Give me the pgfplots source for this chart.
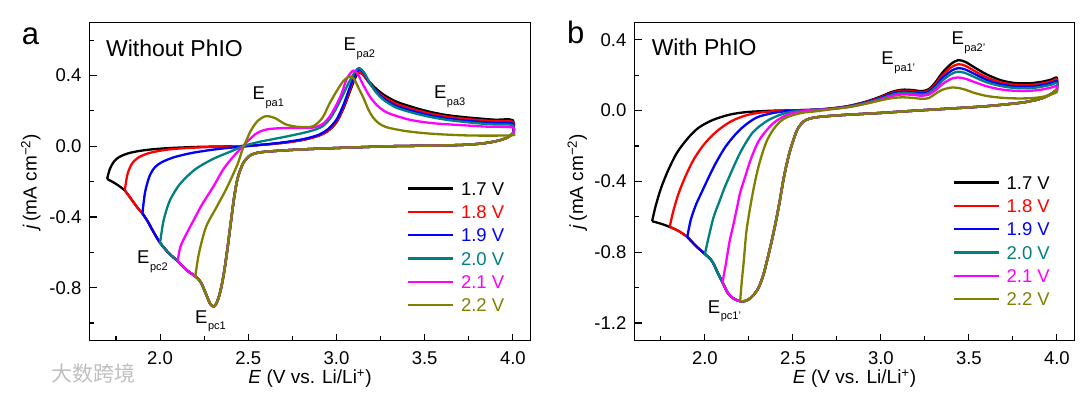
\documentclass[border=0pt]{standalone}
\usepackage{fontspec}
\setmainfont{Liberation Sans}
\newfontfamily\cjk{Noto Sans CJK SC}
\usepackage{pgfplots}
\pgfplotsset{compat=1.18}
\usepackage{pgfplotstable}

\definecolor{cblack}{RGB}{0,0,0}
\definecolor{cred}{RGB}{255,0,0}
\definecolor{cblue}{RGB}{0,0,255}
\definecolor{cteal}{RGB}{0,128,128}
\definecolor{cmag}{RGB}{255,0,255}
\definecolor{colive}{RGB}{128,128,0}

% ---------------- Panel a ----------------
\pgfplotstableread{
x y
4.00 0.072
3.97 0.050
3.93 0.035
3.87 0.022
3.80 0.013
3.70 0.007
3.50 0.003
3.30 0.000
3.00 -0.010
2.80 -0.018
2.65 -0.027
2.57 -0.034
2.53 -0.043
2.50 -0.060
2.47 -0.098
2.44 -0.180
2.42 -0.290
2.40 -0.440
2.38 -0.595
2.36 -0.730
2.34 -0.828
2.32 -0.888
2.305 -0.906
2.285 -0.893
2.26 -0.835
2.23 -0.768
2.20 -0.736
2.15 -0.700
2.10 -0.650
2.05 -0.605
2.00 -0.546
1.96 -0.480
1.93 -0.425
1.90 -0.380
1.87 -0.345
1.83 -0.290
1.80 -0.250
1.75 -0.213
1.70 -0.185
}\envA

\pgfplotstableread{
x y
1.70 -0.185
1.715 -0.130
1.74 -0.085
1.77 -0.060
1.82 -0.040
1.88 -0.027
1.96 -0.017
2.06 -0.010
2.20 -0.004
2.35 -0.001
2.47 0.001
2.60 0.010
2.72 0.022
2.82 0.038
2.90 0.060
2.95 0.085
3.00 0.135
3.04 0.215
3.08 0.320
3.11 0.395
3.13 0.415
3.15 0.405
3.18 0.372
3.22 0.330
3.27 0.290
3.34 0.252
3.43 0.222
3.52 0.197
3.62 0.177
3.72 0.165
3.81 0.157
3.90 0.150
4.00 0.147
4.00 0.072
}\aA

\pgfplotstableread{
x y
1.80 -0.250
1.815 -0.160
1.84 -0.100
1.88 -0.062
1.94 -0.038
2.02 -0.022
2.12 -0.012
2.26 -0.005
2.40 -0.001
2.47 0.001
2.60 0.010
2.72 0.022
2.82 0.038
2.90 0.060
2.95 0.086
3.00 0.138
3.04 0.222
3.08 0.330
3.105 0.400
3.125 0.422
3.15 0.405
3.18 0.365
3.22 0.320
3.27 0.278
3.34 0.240
3.43 0.211
3.52 0.187
3.62 0.168
3.72 0.156
3.81 0.148
3.90 0.142
4.00 0.138
4.00 0.072
}\aB

\pgfplotstableread{
x y
1.90 -0.380
1.915 -0.260
1.94 -0.170
1.97 -0.120
2.01 -0.090
2.08 -0.062
2.17 -0.040
2.26 -0.025
2.36 -0.012
2.45 -0.004
2.52 0.003
2.62 0.013
2.72 0.025
2.82 0.042
2.90 0.065
2.95 0.095
3.00 0.150
3.04 0.235
3.08 0.345
3.11 0.418
3.13 0.435
3.155 0.415
3.18 0.370
3.22 0.315
3.27 0.268
3.34 0.228
3.43 0.200
3.52 0.177
3.62 0.158
3.72 0.146
3.81 0.138
3.90 0.132
4.00 0.128
4.00 0.072
}\aC

\pgfplotstableread{
x y
2.00 -0.546
2.02 -0.420
2.05 -0.320
2.08 -0.262
2.12 -0.205
2.20 -0.130
2.30 -0.072
2.40 -0.030
2.47 0.000
2.55 0.022
2.65 0.042
2.75 0.062
2.85 0.085
2.92 0.112
2.97 0.165
3.02 0.255
3.07 0.360
3.11 0.428
3.13 0.442
3.155 0.420
3.18 0.375
3.22 0.310
3.27 0.260
3.34 0.218
3.43 0.190
3.52 0.168
3.62 0.150
3.72 0.138
3.81 0.129
3.90 0.123
4.00 0.119
4.00 0.072
}\aD

\pgfplotstableread{
x y
2.10 -0.650
2.115 -0.570
2.15 -0.495
2.20 -0.400
2.24 -0.326
2.30 -0.232
2.36 -0.128
2.42 -0.053
2.47 0.000
2.50 0.032
2.55 0.075
2.61 0.096
2.70 0.103
2.80 0.104
2.87 0.106
2.92 0.125
2.96 0.165
3.00 0.235
3.03 0.300
3.06 0.385
3.095 0.428
3.12 0.410
3.15 0.350
3.19 0.280
3.23 0.232
3.28 0.194
3.35 0.168
3.43 0.147
3.55 0.130
3.715 0.119
3.85 0.111
4.00 0.106
4.00 0.072
}\aE

\pgfplotstableread{
x y
2.20 -0.736
2.22 -0.608
2.26 -0.458
2.32 -0.345
2.38 -0.232
2.44 -0.100
2.465 -0.024
2.485 0.023
2.515 0.089
2.555 0.145
2.60 0.170
2.65 0.160
2.71 0.125
2.77 0.111
2.83 0.109
2.87 0.114
2.92 0.160
2.96 0.240
3.00 0.310
3.04 0.370
3.075 0.395
3.10 0.380
3.125 0.330
3.15 0.280
3.18 0.210
3.205 0.166
3.24 0.130
3.28 0.109
3.35 0.093
3.43 0.081
3.55 0.070
3.715 0.062
3.85 0.060
4.00 0.062
4.00 0.072
}\aF

% ---------------- Panel b ----------------
\pgfplotstableread{
x y
4.00 0.118
3.96 0.090
3.90 0.065
3.80 0.045
3.60 0.025
3.40 0.012
3.20 0.000
3.00 -0.013
2.80 -0.024
2.70 -0.031
2.63 -0.038
2.59 -0.047
2.56 -0.062
2.53 -0.098
2.51 -0.145
2.48 -0.240
2.45 -0.370
2.42 -0.540
2.39 -0.690
2.36 -0.820
2.33 -0.935
2.30 -1.010
2.26 -1.058
2.23 -1.075
2.20 -1.077
2.16 -1.060
2.13 -1.030
2.10 -0.970
2.07 -0.910
2.04 -0.850
2.00 -0.810
1.95 -0.766
1.90 -0.714
1.85 -0.680
1.80 -0.657
1.75 -0.639
1.70 -0.625
}\envB

\pgfplotstableread{
x y
1.70 -0.625
1.72 -0.540
1.75 -0.440
1.79 -0.340
1.84 -0.240
1.90 -0.160
1.96 -0.100
2.04 -0.055
2.14 -0.023
2.24 -0.008
2.40 0.000
2.60 0.004
2.72 0.013
2.82 0.027
2.92 0.052
3.00 0.080
3.06 0.105
3.12 0.118
3.18 0.116
3.23 0.110
3.27 0.120
3.31 0.160
3.35 0.215
3.40 0.265
3.44 0.285
3.48 0.275
3.53 0.245
3.60 0.205
3.68 0.172
3.76 0.156
3.85 0.155
3.92 0.164
3.97 0.176
4.00 0.185
4.00 0.118
}\bA

\pgfplotstableread{
x y
1.80 -0.657
1.82 -0.570
1.85 -0.470
1.89 -0.370
1.94 -0.270
2.00 -0.185
2.07 -0.115
2.15 -0.060
2.24 -0.025
2.34 -0.008
2.45 0.000
2.60 0.004
2.72 0.012
2.82 0.026
2.92 0.050
3.00 0.076
3.06 0.100
3.12 0.112
3.18 0.110
3.23 0.104
3.27 0.113
3.31 0.150
3.35 0.200
3.40 0.245
3.44 0.262
3.48 0.253
3.53 0.225
3.60 0.188
3.68 0.160
3.76 0.146
3.85 0.145
3.92 0.154
3.97 0.166
4.00 0.176
4.00 0.118
}\bB

\pgfplotstableread{
x y
1.90 -0.714
1.92 -0.616
1.95 -0.530
1.98 -0.465
2.02 -0.380
2.06 -0.300
2.12 -0.200
2.20 -0.107
2.29 -0.041
2.39 -0.013
2.48 -0.002
2.60 0.004
2.72 0.011
2.82 0.025
2.92 0.048
3.00 0.072
3.06 0.095
3.12 0.106
3.18 0.104
3.23 0.098
3.27 0.106
3.31 0.140
3.35 0.185
3.40 0.225
3.44 0.240
3.48 0.232
3.53 0.208
3.60 0.174
3.68 0.149
3.76 0.137
3.85 0.136
3.92 0.145
3.97 0.157
4.00 0.166
4.00 0.118
}\bC

\pgfplotstableread{
x y
2.00 -0.810
2.02 -0.720
2.05 -0.600
2.08 -0.520
2.11 -0.440
2.14 -0.370
2.20 -0.239
2.27 -0.126
2.35 -0.060
2.43 -0.023
2.51 -0.004
2.60 0.003
2.72 0.010
2.82 0.023
2.92 0.045
3.00 0.068
3.06 0.089
3.12 0.100
3.18 0.098
3.23 0.092
3.27 0.099
3.31 0.130
3.35 0.170
3.40 0.207
3.44 0.220
3.48 0.212
3.53 0.190
3.60 0.160
3.68 0.139
3.76 0.128
3.85 0.127
3.92 0.136
3.97 0.147
4.00 0.156
4.00 0.118
}\bD

\pgfplotstableread{
x y
2.10 -0.970
2.12 -0.860
2.14 -0.740
2.16 -0.653
2.18 -0.560
2.20 -0.465
2.23 -0.370
2.26 -0.277
2.31 -0.164
2.39 -0.070
2.47 -0.023
2.55 -0.004
2.62 0.003
2.72 0.009
2.82 0.021
2.92 0.041
3.00 0.062
3.06 0.081
3.12 0.091
3.18 0.089
3.23 0.084
3.27 0.090
3.31 0.115
3.35 0.150
3.40 0.180
3.44 0.187
3.48 0.180
3.53 0.162
3.60 0.138
3.68 0.120
3.76 0.112
3.85 0.112
3.92 0.120
3.97 0.131
4.00 0.140
4.00 0.118
}\bE

\pgfplotstableread{
x y
2.20 -1.077
2.21 -0.960
2.22 -0.860
2.235 -0.690
2.25 -0.590
2.265 -0.503
2.285 -0.400
2.305 -0.315
2.33 -0.230
2.355 -0.164
2.39 -0.105
2.43 -0.060
2.47 -0.036
2.55 -0.013
2.63 -0.004
2.72 0.008
2.82 0.020
2.92 0.040
3.00 0.058
3.06 0.070
3.12 0.075
3.18 0.072
3.23 0.067
3.27 0.070
3.31 0.095
3.35 0.118
3.40 0.130
3.44 0.128
3.48 0.118
3.53 0.100
3.60 0.083
3.68 0.073
3.76 0.069
3.85 0.070
3.92 0.078
3.97 0.092
4.00 0.105
4.00 0.118
}\bF

\newcommand{\elab}[1]{E\kern0.6pt\raisebox{-6.7pt}{\fontsize{11}{12}\selectfont #1}}

\pgfplotsset{
  cvline/.style={line width=2.3pt, smooth, tension=0.5, line join=round},
  cv/.style={
    scale only axis,
    anchor=south west,
    xmin=1.6, xmax=4.1,
    xtick={2,2.5,3,3.5,4},
    minor xtick={1.75,2.25,2.75,3.25,3.75},
    tick pos=left,
    tick align=inside,
    major tick length=7pt,
    minor tick length=4.5pt,
    tick style={line width=1.1pt, black},
    axis line style={line width=1.1pt},
    tick label style={font=\fontsize{18.5}{20}\selectfont},
    /pgf/number format/fixed,
    /pgf/number format/fixed zerofill,
    /pgf/number format/precision=1,
    /pgf/number format/assume math mode=true,
    xticklabel style={inner sep=0pt, yshift=-11pt},
    yticklabel style={inner sep=0pt, xshift=-8pt},
    xlabel={\textit{E} (V vs. Li/Li\textsuperscript{+})},
    ylabel={\textit{j}\,(mA cm\textsuperscript{−2})},
    xlabel style={at={(axis description cs:0.5,0)}, anchor=north, inner sep=0pt, yshift=-29pt, font=\fontsize{19}{21}\selectfont},
    label style={font=\fontsize{19}{21}\selectfont},
    legend cell align=left,
    legend image code/.code={\draw[#1, line width=2.3pt] (0pt,0pt) -- (45pt,0pt);},
    legend style={draw=none, fill=none, anchor=north west, inner sep=0pt,
      row sep=10pt, column sep=6.6pt, font=\fontsize{18.5}{20}\selectfont,
      nodes={inner sep=0pt, text height=13.3pt, text depth=0pt}},
  }
}

\begin{document}
\begin{tikzpicture}[x=1pt,y=1pt]
\useasboundingbox (0,0) rectangle (1080,392);

% ---------- Panel a ----------
\begin{axis}[cv,
  at={(89.5pt,51.3pt)}, width=441pt, height=318.2pt,
  ymin=-1.1, ymax=0.7,
  ytick={-0.8,-0.4,0,0.4},
  minor ytick={-1.0,-0.6,-0.2,0.2,0.6},
  ylabel style={at={(axis description cs:-0.133,0.5)}, anchor=center, inner sep=0pt},
  legend style={at={(axis description cs:0.7198,0.4995)}},
]
\addplot[cblack, cvline, restrict x to domain=1.69:4.2, forget plot] table {\envA};
\addplot[cblack, cvline] table {\aA};
\addlegendentry{\textcolor{cblack}{1.7 V}}
\addplot[cred, cvline, restrict x to domain=1.79:4.2, forget plot] table {\envA};
\addplot[cred, cvline] table {\aB};
\addlegendentry{\textcolor{cred}{1.8 V}}
\addplot[cblue, cvline, restrict x to domain=1.89:4.2, forget plot] table {\envA};
\addplot[cblue, cvline] table {\aC};
\addlegendentry{\textcolor{cblue}{1.9 V}}
\addplot[cteal, cvline, restrict x to domain=1.99:4.2, forget plot] table {\envA};
\addplot[cteal, cvline] table {\aD};
\addlegendentry{\textcolor{cteal}{2.0 V}}
\addplot[cmag, cvline, restrict x to domain=2.09:4.2, forget plot] table {\envA};
\addplot[cmag, cvline] table {\aE};
\addlegendentry{\textcolor{cmag}{2.1 V}}
\addplot[colive, cvline, restrict x to domain=2.19:4.2, forget plot] table {\envA};
\addplot[colive, cvline] table {\aF};
\addlegendentry{\textcolor{colive}{2.2 V}}

\node[anchor=base west, inner sep=0pt, font=\fontsize{23}{25}\selectfont] at (axis cs:1.693,0.505) {Without PhIO};
\node[anchor=base west, inner sep=0pt, font=\fontsize{18.5}{20}\selectfont] at (axis cs:3.04,0.539) {\elab{pa2}};
\node[anchor=base west, inner sep=0pt, font=\fontsize{18.5}{20}\selectfont] at (axis cs:2.524,0.264) {\elab{pa1}};
\node[anchor=base west, inner sep=0pt, font=\fontsize{18.5}{20}\selectfont] at (axis cs:3.552,0.270) {\elab{pa3}};
\node[anchor=base west, inner sep=0pt, font=\fontsize{18.5}{20}\selectfont] at (axis cs:1.869,-0.664) {\elab{pc2}};
\node[anchor=base west, inner sep=0pt, font=\fontsize{18.5}{20}\selectfont] at (axis cs:2.198,-1.000) {\elab{pc1}};
\end{axis}

% ---------- Panel b ----------
\begin{axis}[cv,
  at={(634.5pt,51.3pt)}, width=440pt, height=318.6pt,
  ymin=-1.3, ymax=0.5,
  ytick={-1.2,-0.8,-0.4,0,0.4},
  minor ytick={-1.0,-0.6,-0.2,0.2},
  ylabel style={at={(axis description cs:-0.13,0.5)}, anchor=center, inner sep=0pt},
  legend style={at={(axis description cs:0.7228,0.5178)}},
]
\addplot[cblack, cvline, restrict x to domain=1.69:4.2, forget plot] table {\envB};
\addplot[cblack, cvline] table {\bA};
\addlegendentry{\textcolor{cblack}{1.7 V}}
\addplot[cred, cvline, restrict x to domain=1.79:4.2, forget plot] table {\envB};
\addplot[cred, cvline] table {\bB};
\addlegendentry{\textcolor{cred}{1.8 V}}
\addplot[cblue, cvline, restrict x to domain=1.89:4.2, forget plot] table {\envB};
\addplot[cblue, cvline] table {\bC};
\addlegendentry{\textcolor{cblue}{1.9 V}}
\addplot[cteal, cvline, restrict x to domain=1.99:4.2, forget plot] table {\envB};
\addplot[cteal, cvline] table {\bD};
\addlegendentry{\textcolor{cteal}{2.0 V}}
\addplot[cmag, cvline, restrict x to domain=2.09:4.2, forget plot] table {\envB};
\addplot[cmag, cvline] table {\bE};
\addlegendentry{\textcolor{cmag}{2.1 V}}
\addplot[colive, cvline, restrict x to domain=2.19:4.2, forget plot] table {\envB};
\addplot[colive, cvline] table {\bF};
\addlegendentry{\textcolor{colive}{2.2 V}}

\node[anchor=base west, inner sep=0pt, font=\fontsize{23}{25}\selectfont] at (axis cs:1.697,0.310) {With PhIO};
\node[anchor=base west, inner sep=0pt, font=\fontsize{18.5}{20}\selectfont] at (axis cs:3.002,0.259) {\elab{pa1'}};
\node[anchor=base west, inner sep=0pt, font=\fontsize{18.5}{20}\selectfont] at (axis cs:3.400,0.372) {\elab{pa2'}};
\node[anchor=base west, inner sep=0pt, font=\fontsize{18.5}{20}\selectfont] at (axis cs:2.016,-1.145) {\elab{pc1'}};
\end{axis}

\node[anchor=base west, inner sep=0pt, font=\fontsize{31}{33}\selectfont] at (21.7,347) {a};
\node[anchor=base west, inner sep=0pt, font=\fontsize{31}{33}\selectfont] at (567,348.7) {b};
\node[anchor=south west, inner sep=0pt, font=\cjk\fontsize{21}{22}\selectfont, text=black!25] at (51,9) {大数跨境};
\end{tikzpicture}
\end{document}
